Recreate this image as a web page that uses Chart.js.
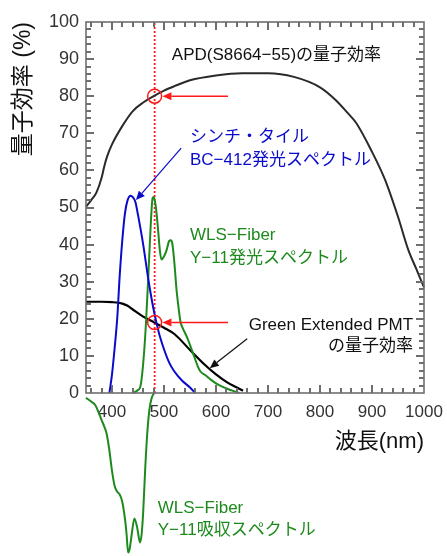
<!DOCTYPE html>
<html>
<head>
<meta charset="utf-8">
<script src="https://cdn.jsdelivr.net/npm/chart.js@4"></script>
<style>
  html, body { margin: 0; padding: 0; background: #fff; }
  #wrap { width: 447px; height: 556px; }
</style>
</head>
<body>
<div id="wrap"><canvas id="qeChart" width="447" height="556"></canvas></div>
<script>
// wavelength (nm) / value (%)
const apdX = [350, 360, 370, 380, 385, 390, 400, 420, 440, 460, 480, 500, 520, 550, 600, 650, 700, 750, 800, 830, 850, 870, 900, 925, 950, 970, 985, 1000];
const apdY = [50.2, 52, 54, 58, 61, 63.5, 67, 72, 76, 78.3, 80, 81.5, 82.7, 84.3, 85.6, 86.2, 86.2, 85.2, 82.4, 79, 76, 72.7, 65, 57.5, 47.5, 38.5, 33.5, 28.5];

const pmtX = [350, 380, 400, 420, 430, 440, 460, 480, 500, 520, 550, 580, 600, 620, 640, 652];
const pmtY = [24.6, 24.6, 24.5, 24.1, 23.5, 22.5, 20.6, 19.1, 17.6, 15.9, 11.6, 7.4, 5.0, 3.0, 1.5, 0.6];

const bcX = [395, 400, 405, 410, 415, 420, 425, 430, 436, 440, 445, 450, 460, 470, 480, 490, 500, 510, 520, 535, 550, 560];
const bcY = [0, 5, 12, 20, 32, 41.5, 48.5, 52, 53.2, 52.8, 51.5, 48, 40, 30.5, 22.5, 16.3, 11.8, 8.2, 5.8, 3.3, 1.5, 0];

const y11EmX = [440, 450, 455, 460, 465, 470, 474, 478, 480, 484, 488, 492, 495, 500, 505, 510, 513, 516, 520, 524, 528, 532, 536, 545, 555, 565, 570, 580, 590, 600, 615, 630, 645];
const y11EmY = [0, 0.8, 2, 8, 18, 32, 44, 52.5, 52.8, 50.5, 45, 38.5, 36, 36.8, 38.5, 41, 41.2, 40.3, 35, 28, 23, 19, 17.5, 14.8, 11, 7.2, 5.8, 4.8, 3.6, 2.6, 1.5, 0.7, 0];

// absorption is plotted downward, below the 0 line
const y11AbX = [350, 360, 368, 375, 380, 385, 390, 395, 400, 405, 410, 415, 420, 425, 428, 431, 434, 438, 443, 448, 454, 457, 460, 464, 468, 472, 476, 481];
const y11AbY = [-1.3, -2.3, -3.3, -5.5, -7.3, -9, -11.2, -15.5, -21, -25, -26.6, -27.4, -29.5, -34, -38, -43, -42, -38, -33.8, -36, -40.3, -38, -32, -20, -10.5, -4.5, -1.5, 0];

const markX = [482, 482];
const markY = [0, 100];

const xTicks = [400, 500, 600, 700, 800, 900, 1000];
const yTicks = [0, 10, 20, 30, 40, 50, 60, 70, 80, 90, 100];

const FONT = "'Liberation Sans', 'Noto Sans CJK JP', sans-serif";
const BLUE = '#0a0acc';
const GREEN = '#1e8a1e';
const FRAME = '#6e6e6e';

function pts(xs, ys) {
  return xs.map((x, i) => ({ x: x, y: ys[i] }));
}

// labels, arrows, circles in data coordinates
const labels = [
  { text: 'APD(S8664−55)の量子効率', x: 515, y: 91.1, color: '#111', align: 'left' },
  { text: 'シンチ・タイル', x: 550, y: 69, color: BLUE, align: 'left' },
  { text: 'BC−412発光スペクトル', x: 550, y: 62.8, color: BLUE, align: 'left' },
  { text: 'WLS−Fiber', x: 550, y: 42.6, color: GREEN, align: 'left' },
  { text: 'Y−11発光スペクトル', x: 550, y: 36.4, color: GREEN, align: 'left' },
  { text: 'Green Extended PMT', x: 979, y: 18.3, color: '#111', align: 'right' },
  { text: 'の量子効率', x: 979, y: 12.7, color: '#111', align: 'right' },
  { text: 'WLS−Fiber', x: 488, y: -31, color: GREEN, align: 'left' },
  { text: 'Y−11吸収スペクトル', x: 488, y: -36.9, color: GREEN, align: 'left' }
];
const arrows = [
  { from: [623, 80], to: [497, 80], color: '#ff1a1a', width: 1.5 },
  { from: [623, 19], to: [497, 19], color: '#ff1a1a', width: 1.5 },
  { from: [533, 66], to: [446, 52], color: BLUE, width: 1.2 },
  { from: [660, 14.6], to: [588, 6.7], color: '#111', width: 1.2 }
];
const circles = [[482, 80], [482, 19]];

// inward tick marks on all four sides
const xFrameTicks = [360, 380, 400, 420, 440, 460, 480, 500, 520, 540, 560, 580, 600, 620, 640, 660, 680, 700, 720, 740, 760, 780, 800, 820, 840, 860, 880, 900, 920, 940, 960, 980];
const yFrameTicks = [2, 4, 6, 8, 10, 12, 14, 16, 18, 20, 22, 24, 26, 28, 30, 32, 34, 36, 38, 40, 42, 44, 46, 48, 50, 52, 54, 56, 58, 60, 62, 64, 66, 68, 70, 72, 74, 76, 78, 80, 82, 84, 86, 88, 90, 92, 94, 96, 98];

const framePlugin = {
  id: 'frame',
  afterDraw(chart) {
    const ctx = chart.ctx;
    const a = chart.chartArea;
    const sx = chart.scales.x;
    const sy = chart.scales.y;
    ctx.save();
    ctx.fillStyle = FRAME;
    xFrameTicks.forEach(v => {
      const px = Math.round(sx.getPixelForValue(v));
      const len = (v % 100 === 0) ? 8 : 5;
      ctx.fillRect(px - 1, a.bottom - len, 2, len);
      ctx.fillRect(px - 1, a.top, 2, len);
    });
    yFrameTicks.forEach(v => {
      const py = Math.round(sy.getPixelForValue(v));
      const len = (v % 10 === 0) ? 8 : 5;
      ctx.fillRect(a.left, py - 1, len, 2);
      ctx.fillRect(a.right - len, py - 1, len, 2);
    });
    ctx.strokeStyle = FRAME;
    ctx.lineWidth = 1.6;
    ctx.strokeRect(a.left, a.top, a.right - a.left, a.bottom - a.top);
    ctx.restore();
  }
};

const notePlugin = {
  id: 'notes',
  afterDraw(chart) {
    const ctx = chart.ctx;
    const x = chart.scales.x, y = chart.scales.y;
    ctx.save();
    ctx.font = '17px ' + FONT;
    ctx.textBaseline = 'middle';
    labels.forEach(l => {
      ctx.fillStyle = l.color;
      ctx.textAlign = l.align;
      ctx.fillText(l.text, x.getPixelForValue(l.x), y.getPixelForValue(l.y));
    });
    arrows.forEach(ar => {
      const x0 = x.getPixelForValue(ar.from[0]), y0 = y.getPixelForValue(ar.from[1]);
      const x1 = x.getPixelForValue(ar.to[0]), y1 = y.getPixelForValue(ar.to[1]);
      const ang = Math.atan2(y1 - y0, x1 - x0);
      const hl = 9, hw = 4;
      const bx = x1 - hl * Math.cos(ang), by = y1 - hl * Math.sin(ang);
      ctx.strokeStyle = ar.color;
      ctx.fillStyle = ar.color;
      ctx.lineWidth = ar.width;
      ctx.beginPath();
      ctx.moveTo(x0, y0);
      ctx.lineTo(bx, by);
      ctx.stroke();
      ctx.beginPath();
      ctx.moveTo(x1, y1);
      ctx.lineTo(bx + hw * Math.sin(ang), by - hw * Math.cos(ang));
      ctx.lineTo(bx - hw * Math.sin(ang), by + hw * Math.cos(ang));
      ctx.closePath();
      ctx.fill();
    });
    ctx.strokeStyle = '#ff1a1a';
    ctx.lineWidth = 1.5;
    circles.forEach(c => {
      ctx.beginPath();
      ctx.arc(x.getPixelForValue(c[0]), y.getPixelForValue(c[1]), 7, 0, Math.PI * 2);
      ctx.stroke();
    });
    ctx.restore();
  }
};

const lineDefaults = {
  pointRadius: 0,
  fill: false,
  cubicInterpolationMode: 'monotone',
  clip: false
};

new Chart(document.getElementById('qeChart'), {
  type: 'line',
  data: {
    datasets: [
      { ...lineDefaults, label: 'APD', data: pts(apdX, apdY), borderColor: '#2a2a2a', borderWidth: 2 },
      { ...lineDefaults, label: 'BC-412', data: pts(bcX, bcY), borderColor: BLUE, borderWidth: 2 },
      { ...lineDefaults, label: 'Y-11 emission', data: pts(y11EmX, y11EmY), borderColor: GREEN, borderWidth: 2 },
      { ...lineDefaults, label: 'Y-11 absorption', data: pts(y11AbX, y11AbY), borderColor: GREEN, borderWidth: 2 },
      { ...lineDefaults, label: 'PMT', data: pts(pmtX, pmtY), borderColor: '#000', borderWidth: 2.2 },
      { ...lineDefaults, label: 'marker', data: pts(markX, markY), borderColor: '#ff1a1a', borderWidth: 1.8, borderDash: [2, 2], cubicInterpolationMode: 'default', tension: 0 }
    ]
  },
  options: {
    responsive: false,
    animation: false,
    layout: { padding: { top: 22, right: 23, bottom: 93, left: 0 } },
    plugins: { legend: { display: false }, tooltip: { enabled: false } },
    scales: {
      x: {
        type: 'linear',
        min: 350,
        max: 1000,
        afterBuildTicks: s => { s.ticks = xTicks.map(v => ({ value: v })); },
        afterFit: s => { s.height = 70; s.paddingRight = 0; s.paddingLeft = 0; },
        grid: { display: false, drawTicks: false },
        border: { display: false },
        ticks: { padding: 9, color: '#333', font: { family: FONT, size: 17 }, callback: v => String(v) },
        title: {
          display: true, text: '波長(nm)', align: 'end', color: '#111',
          font: { family: FONT, size: 22 }, padding: { top: 0, bottom: 8 }
        }
      },
      y: {
        min: 0,
        max: 100,
        afterBuildTicks: s => { s.ticks = yTicks.map(v => ({ value: v })); },
        afterFit: s => { s.width = 86; s.paddingTop = 0; s.paddingBottom = 0; },
        grid: { display: false, drawTicks: false },
        border: { display: false },
        ticks: { padding: 7, color: '#333', font: { family: FONT, size: 18 }, callback: v => String(v) },
        title: {
          display: true, text: '量子効率 (%)', align: 'end', color: '#111',
          font: { family: FONT, size: 23 }, padding: { top: 10, bottom: 0 }
        }
      }
    }
  },
  plugins: [framePlugin, notePlugin]
});
</script>
</body>
</html>
